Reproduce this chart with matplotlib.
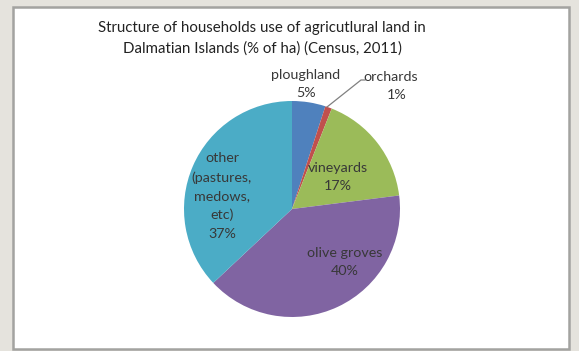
import matplotlib.pyplot as plt
from matplotlib.patches import Rectangle

# land use shares, % of ha
categories = ['ploughland', 'orchards', 'vineyards', 'olive groves',
              'other\n(pastures,\nmedows,\netc)']
shares = [5, 1, 17, 40, 37]
colors = ['#4f81bd', '#c0504d', '#9bbb59', '#8064a2', '#4bacc6']
title = ('Structure of households use of agricutlural land in\n'
         'Dalmatian Islands (% of ha) (Census, 2011)')

W, H = 579, 351
cx, cy, r = 292, 209, 108   # pie centre and radius in pixels

fig = plt.figure(figsize=(W / 100, H / 100), dpi=100)
fig.patch.set_facecolor('#e5e3dd')

# white chart panel with grey frame
fig.patches.append(Rectangle((13 / W, 1 - 349 / H), (569 - 13) / W, (349 - 7) / H,
                             transform=fig.transFigure, facecolor='white',
                             edgecolor='#a3a3a0', linewidth=1.8, zorder=-5))

ax = fig.add_axes([(cx - r) / W, (H - cy - r) / H, 2 * r / W, 2 * r / H])
ax.set_zorder(2)
ax.pie(shares, colors=colors, startangle=90, counterclock=False,
       radius=1, wedgeprops=dict(linewidth=0))
ax.set_xlim(-1, 1)
ax.set_ylim(-1, 1)
ax.axis('off')


def px(x, y):
    # pixel position -> pie data coords
    return (x - cx) / r, (cy - y) / r


font = 'Lato'
tc = '#383838'
kw = dict(ha='center', va='center', fontsize=10.3, color=tc, family=font,
          linespacing=1.65, clip_on=False)

ax.text(*px(306, 84), f'{categories[0]}\n{shares[0]}%', **kw)
ax.text(*px(391, 77), categories[1], **kw)
ax.text(*px(397, 95), f'{shares[1]}%', **kw)
ax.text(*px(338, 177), f'{categories[2]}\n{shares[2]}%', **kw)
ax.text(*px(345, 262), f'{categories[3]}\n{shares[3]}%', **kw)
ax.text(*px(222, 196), f'{categories[4]}\n{shares[4]}%', **kw)

# leader line for the orchards slice
lx, ly = zip(px(327, 107), px(361, 80), px(365, 80))
ax.plot(lx, ly, color='#808080', linewidth=0.9, clip_on=False)

fig.text(262 / W, 1 - 38 / H, title, ha='center', va='center', fontsize=10.8,
         color='#222222', family=font, linespacing=1.55)

fig.savefig('out.png', dpi=100, facecolor=fig.get_facecolor())
